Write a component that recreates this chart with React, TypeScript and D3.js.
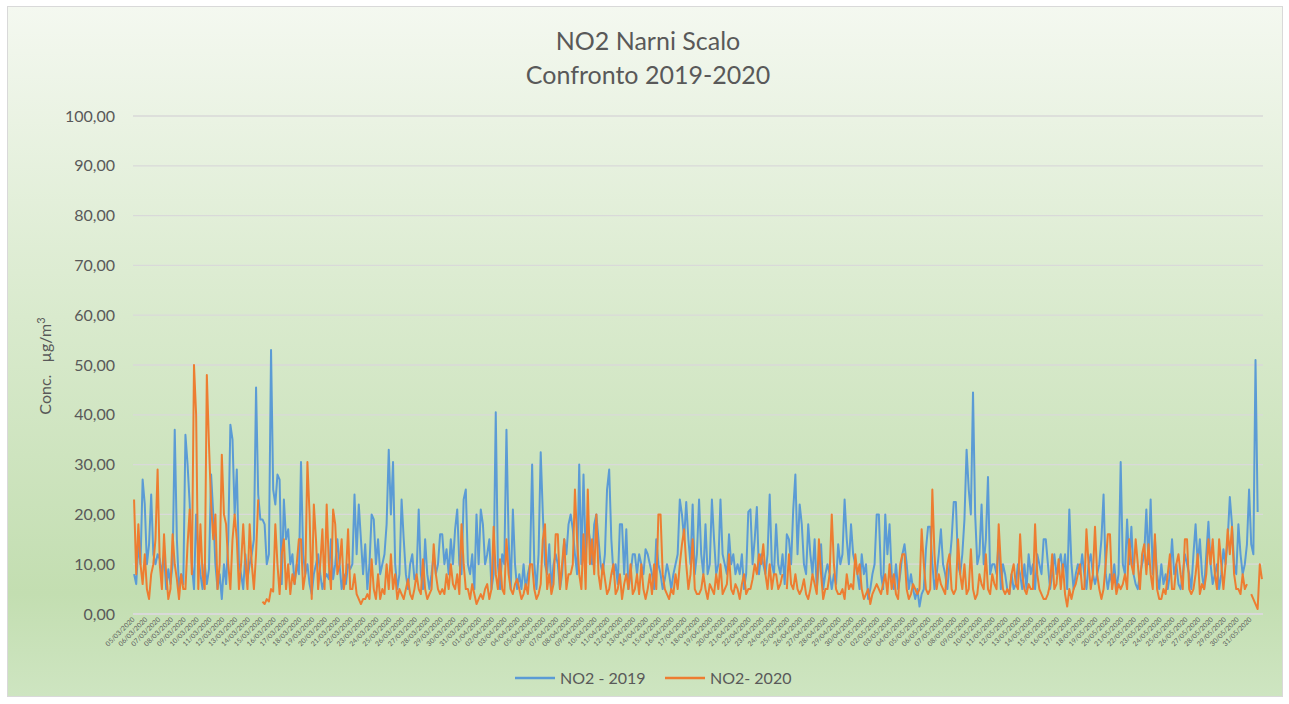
import React from "react";
import * as d3 from "d3";

// ---- DATA (6 readings per day, 05/03/2020 .. 31/05/2020) ----
const startDate = new Date(2020, 2, 5);
const dayCount = 88;
const dateLabels: string[] = d3.timeDay
  .range(startDate, d3.timeDay.offset(startDate, dayCount))
  .map((d) => d3.timeFormat("%d/%m/%Y")(d));

const yTicks = [0, 10, 20, 30, 40, 50, 60, 70, 80, 90, 100];

const seriesNames = ["NO2 - 2019", "NO2- 2020"];

const no2_2019: (number | null)[][] = [
  [8, 6, 14, 10, 27, 22], [10, 14, 24, 12, 10, 12], [11, 8, 12, 5, 9, 6], [10, 37, 15, 5, 8, 6],
  [36, 30, 22, 10, 5, 20], [12, 8, 5, 10, 6, 9], [28, 20, 10, 5, 8, 3], [10, 6, 15, 38, 35, 20],
  [29, 10, 8, 5, 12, 7], [10, 12, 15, 45.5, 24, 19], [19, 18, 10, 12, 53, 25], [22, 28, 27, 6, 23, 15],
  [17, 10, 12, 6, 10, 8], [30.5, 12, 8, 10, 6, 4], [8, 10, 12, 8, 5, 7], [8, 7, 15, 7, 10, 15],
  [10, 5, 8, 6, 10, 9], [10, 24, 12, 22, 15, 8], [14, 5, 10, 20, 19, 10], [15, 8, 10, 12, 18, 33],
  [20, 30.5, 10, 5, 8, 23], [15, 8, 5, 10, 12, 7], [8, 21, 8, 5, 15, 8], [5, 8, 12, 8, 10, 16],
  [16, 10, 13, 8, 15, 10], [17, 21, 10, 8, 23, 25], [10, 8, 12, 5, 20, 10], [21, 18, 10, 12, 15, 5],
  [8, 40.5, 10, 5, 12, 10], [37, 15, 5, 21, 10, 5], [8, 5, 10, 5, 8, 10], [30, 10, 5, 12, 32.5, 20],
  [10, 8, 14, 5, 10, 12], [10, 5, 8, 15, 12, 18], [20, 17, 12, 8, 30, 10], [28, 12, 18, 15, 10, 18],
  [20, 15, 10, 8, 12, 25], [29, 15, 8, 10, 6, 18], [18, 8, 17, 5, 8, 12], [12, 8, 12, 10, 8, 13],
  [12, 10, 8, 5, 15, 10], [8, 5, 7, 10, 8, 5], [8, 10, 12, 23, 20, 15], [22.5, 15, 10, 22, 8, 12],
  [23, 12, 8, 18, 8, 10], [23, 15, 8, 10, 23, 12], [10, 8, 16, 10, 12, 8], [10, 8, 12, 5, 8, 20.5],
  [21, 10, 15, 21.5, 8, 12], [10, 8, 12, 24, 10, 8], [18, 10, 8, 12, 6, 16], [15, 10, 21, 28, 12, 22],
  [18, 10, 8, 18, 12, 8], [15, 5, 10, 14, 5, 8], [10, 8, 5, 8, 6, 14], [10, 12, 23, 15, 10, 18],
  [12, 10, 8, 5, 12, 8], [10, 3, 5, 8, 10, 20], [20, 8, 5, 20, 12, 18], [8, 5, 10, 5, 8, 12],
  [14, 10, 5, 8, 5, 3], [5, 1.5, 4, 5, 13, 17.5], [17.5, 10, 5, 8, 12, 17], [10, 8, 5, 10, 15, 22.5],
  [22.5, 10, 8, 12, 19, 33], [25, 20, 44.5, 20, 10, 12], [22, 10, 15, 27.5, 8, 10], [10, 8, 15, 5, 10, 8],
  [5, 4, 8, 5, 6, 10], [8, 5, 10, 5, 12, 8], [10, 5, 12, 10, 8, 15], [15, 10, 5, 8, 12, 8],
  [10, 12, 8, 12, 5, 21], [10, 5, 8, 10, 8, 12], [8, 5, 10, 12, 8, 6], [8, 10, 15, 24, 8, 5],
  [8, 6, 10, 5, 8, 30.5], [10, 8, 19, 10, 17.5, 8], [6, 5, 8, 10, 12, 21], [10, 23, 8, 15, 8, 5],
  [10, 6, 8, 5, 8, 15], [8, 10, 6, 5, 8, 12], [10, 8, 5, 12, 18, 10], [15, 8, 5, 12, 18.5, 10],
  [6, 8, 10, 5, 8, 13], [10, 15, 23.5, 18, 10, 8], [18, 12, 8, 10, 14, 25], [14, 12, 51, 20.5, null, null],
];

const no2_2020: (number | null)[][] = [
  [23, 8, 18, 10, 6, 12], [5, 3, 8, 10, 15, 29], [10, 5, 16, 8, 3, 5], [16, 10, 7, 3, 8, 5],
  [5, 14, 21, 8, 50, 40], [5, 18, 8, 5, 48, 34], [22, 15, 20, 5, 10, 32], [20, 18, 10, 5, 15, 20],
  [15, 5, 10, 18, 10, 5], [18, 10, 5, 12, 23, null], [2.5, 2, 3, 2.5, 5, 4.5], [18, 10, 4, 12, 15, 5],
  [10, 4, 8, 6, 10, 15], [15, 5, 8, 30.5, 20, 3], [22, 15, 5, 10, 17, 5], [22, 10, 5, 21, 18, 8],
  [10, 15, 5, 8, 17, 5], [5, 8, 4, 3, 2, 3], [3, 4, 3, 11, 5, 3], [8, 3, 5, 4, 10, 5],
  [12, 5, 8, 3, 5, 4], [3, 5, 7, 4, 3, 5], [8, 5, 4, 11, 5, 3], [4, 5, 14, 8, 5, 4],
  [5, 4, 8, 5, 10, 6], [5, 8, 4, 18, 10, 5], [5, 3, 6, 4, 2, 3], [4, 3, 5, 6, 3, 5],
  [17.5, 8, 5, 11, 5, 4], [15, 8, 5, 4, 6, 7], [5, 3, 4, 6, 4, 10], [10, 5, 3, 4, 6, 15],
  [18, 5, 8, 4, 6, 16], [16, 5, 10, 15, 5, 8], [8, 10, 25, 15, 8, 5], [16, 5, 25, 10, 15, 8],
  [20, 8, 5, 10, 7, 4], [5, 8, 10, 4, 5, 8], [3, 6, 8, 5, 10, 4], [5, 8, 4, 10, 5, 3],
  [5, 8, 4, 10, 5, 20], [20, 8, 5, 4, 3, 5], [4, 8, 5, 10, 14, 17], [10, 5, 8, 15, 5, 4],
  [4, 5, 8, 5, 3, 6], [5, 4, 8, 5, 10, 4], [5, 6, 12, 5, 4, 6], [5, 3, 6, 8, 4, 5],
  [5, 7, 10, 8, 12, 10], [14, 8, 5, 10, 5, 8], [8, 5, 6, 8, null, 5], [12, 6, 5, 8, 5, 4],
  [5, 7, 4, 3, 5, 8], [6, 4, 15, 8, 3, 5], [5, 8, 20, 10, 5, 4], [4, 5, 3, 8, 5, 6],
  [5, 12, 8, 10, 5, 3], [4, 5, 2, 4, 5, 6], [5, 4, 6, 8, 4, 10], [5, 8, 4, 3, 10, 12],
  [12, 5, 3, 4, 6, 5], [4, 5, 17, 10, 5, 4], [5, 25, 12, 5, 8, 6], [5, 4, 10, 12, 5, 4],
  [5, 15, 8, 5, 10, 4], [5, 13, 5, 3, 4, 8], [6, 5, 12, 5, 4, 8], [6, 5, 18, 10, 5, 4],
  [5, 4, 8, 10, 6, 5], [16, 8, 5, 4, 6, 5], [5, 18, 8, 5, 4, 3], [3, 4, 6, 12, 5, 6],
  [11, 5, 10, 4, 1.5, 5], [3, 5, 6, 8, 10, 5], [5, 17, 10, 5, 8, 17.5], [8, 5, 3, 5, 10, 16],
  [16, 5, 8, 4, 6, 5], [6, 8, 5, 15, 10, 8], [15, 10, 5, 12, 14, 8], [14, 8, 5, 16, 5, 3],
  [3, 5, 4, 8, 12, 5], [5, 10, 12, 8, 5, 15], [15, 5, 4, 5, 8, 12], [4, 6, 5, 8, 15, 10],
  [15, 8, 5, 15, 10, 5], [10, 17, 12, 17.5, 8, 5], [5, 4, 8, 5, 6, null], [4, 3, 2, 1, 10, 7],
];

const seriesColors = ["#5B9BD5", "#ED7D31"];

const W = 1289;
const H = 704;
const FONT = "Lato, 'Open Sans', sans-serif";

export default function App() {
  const m = { left: 133, right: 1263, top: 116, bottom: 614 };
  const slots = 6;
  const x = d3.scaleLinear().domain([0, dayCount]).range([m.left, m.right]);
  const y = d3.scaleLinear().domain([0, 100]).range([m.bottom, m.top]);

  const flatten = (s: (number | null)[][]) =>
    s.flatMap((day, di) => day.map((v, si) => ({ t: di + (si + 0.5) / slots, v })));

  const line = d3
    .line<{ t: number; v: number | null }>()
    .defined((p) => p.v !== null)
    .x((p) => x(p.t))
    .y((p) => y(p.v as number));

  const series = [no2_2019, no2_2020].map(flatten);
  const fmt = (v: number) => d3.format(".2f")(v).replace(".", ",");

  return (
    <svg width={W} height={H} style={{ position: "absolute", left: 0, top: 0 }} fontFamily={FONT}>
      <defs>
        <linearGradient id="bg" x1="0" y1="0" x2="0" y2="1">
          <stop offset="0" stopColor="#f4f8f0" />
          <stop offset="0.45" stopColor="#d9eacd" />
          <stop offset="0.85" stopColor="#c3deb1" />
          <stop offset="1" stopColor="#cee5c1" />
        </linearGradient>
      </defs>
      <rect x={7.5} y={6.5} width={1275} height={690} fill="url(#bg)" stroke="#d9d9d9" strokeWidth={1} />

      <text x={648} y={50} textAnchor="middle" fontSize={25} fill="#595959">NO2 Narni Scalo</text>
      <text x={648} y={84} textAnchor="middle" fontSize={25} fill="#595959">Confronto 2019-2020</text>

      {yTicks.map((t) => (
        <g key={t}>
          <line x1={m.left} x2={m.right} y1={y(t)} y2={y(t)} stroke="#d9d9d9" strokeWidth={t === 0 ? 2 : 1.3} />
          <text x={115} y={y(t)} dy="0.35em" textAnchor="end" fontSize={16} fill="#595959">{fmt(t)}</text>
        </g>
      ))}

      <text transform={`translate(51,366) rotate(-90)`} textAnchor="middle" fontSize={16} fill="#595959">
        Conc.{"\u00a0\u00a0\u00a0"}µg/m<tspan dy={-6} fontSize={11}>3</tspan>
      </text>

      {dateLabels.map((lab, i) => (
        <text key={lab} transform={`translate(${x(i) + 2},${620}) rotate(-45)`} textAnchor="end" fontSize={6.8} fill="#595959">
          {lab}
        </text>
      ))}

      {series.map((s, i) => (
        <path key={i} d={line(s) || ""} fill="none" stroke={seriesColors[i]} strokeWidth={2} strokeLinejoin="round" />
      ))}

      {seriesNames.map((n, i) => {
        const lx = i === 0 ? 515 : 665;
        return (
          <g key={n}>
            <line x1={lx} x2={lx + 40} y1={678} y2={678} stroke={seriesColors[i]} strokeWidth={2.5} />
            <text x={lx + 45} y={678} dy="0.35em" fontSize={16} fill="#595959">{n}</text>
          </g>
        );
      })}
    </svg>
  );
}
